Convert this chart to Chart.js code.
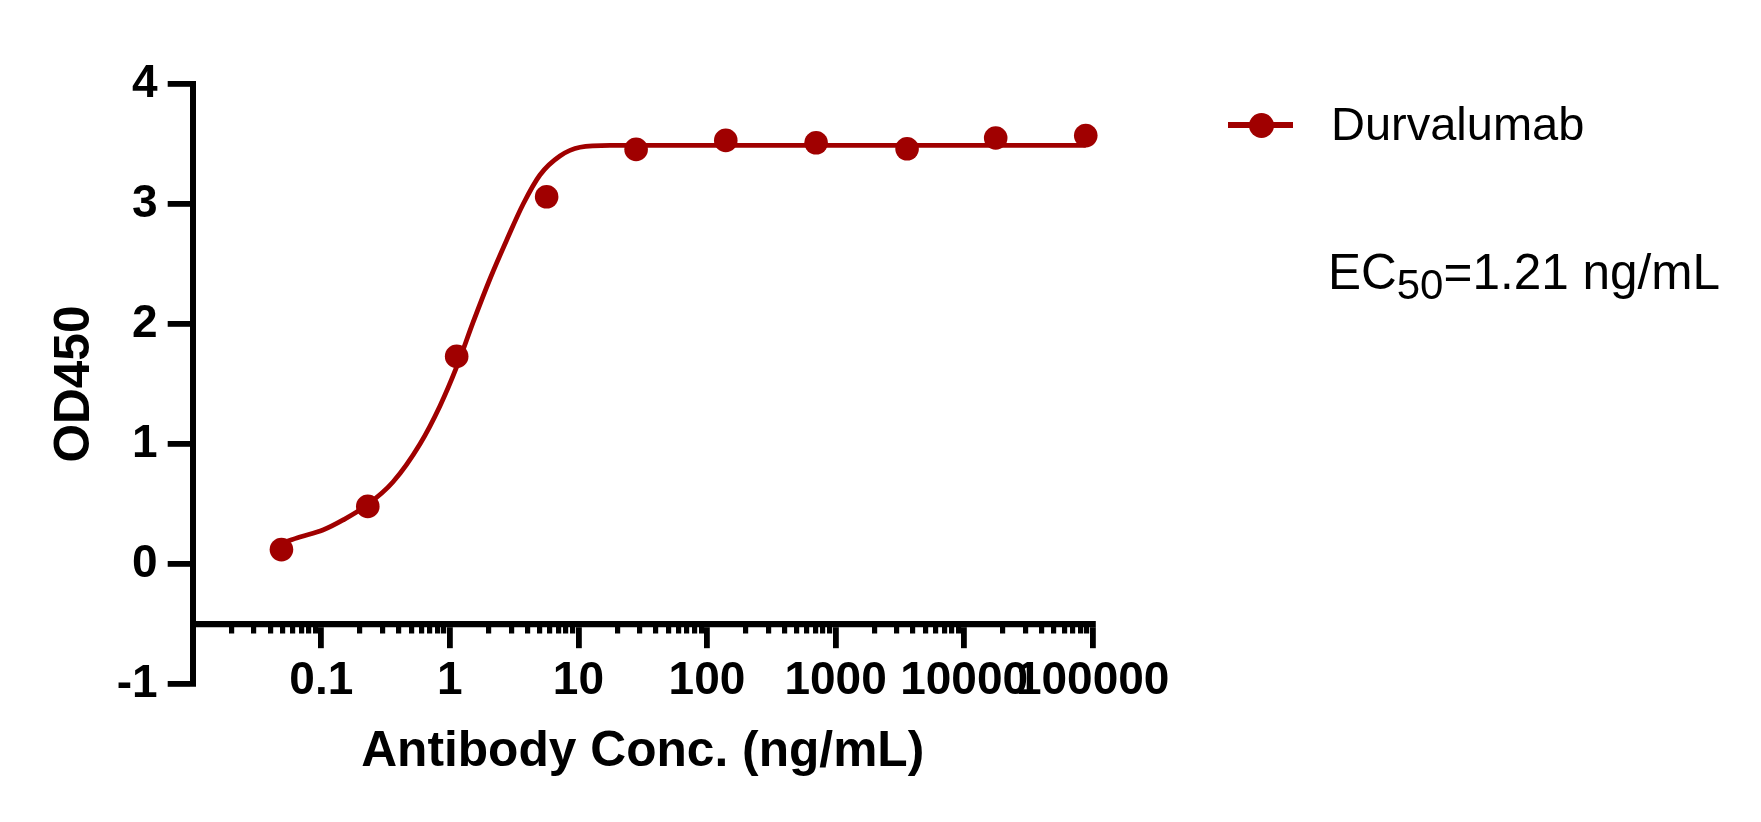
<!DOCTYPE html>
<html>
<head>
<meta charset="utf-8">
<script src="https://cdn.jsdelivr.net/npm/chart.js@4.4.1/dist/chart.umd.min.js"></script>
<style>
  html, body { margin: 0; padding: 0; background: #ffffff; }
  #wrap { position: relative; width: 1761px; height: 822px; overflow: hidden; }
  #c { position: absolute; left: 0; top: 0; }
  .txt { position: absolute; font-family: 'Liberation Sans', Arial, sans-serif; color: #000; white-space: nowrap; }
  #legLine { position: absolute; left: 1228px; top: 122px; width: 65px; height: 5.5px; background: #A00000; }
  #legDot { position: absolute; left: 1248.5px; top: 112.5px; width: 25px; height: 25px; border-radius: 50%; background: #A00000; }
  #legText { left: 1331px; top: 100px; font-size: 47px; line-height: 47px; }
  #ec50 { left: 1328px; top: 246.8px; font-size: 49.5px; line-height: 49.5px; }
  #ec50 sub { font-size: 42px; vertical-align: baseline; position: relative; top: 10px; line-height: 0; }
</style>
</head>
<body>
<div id="wrap">
  <canvas id="c" width="1761" height="822" style="width:1761px;height:822px"></canvas>
  <div id="legLine"></div>
  <div id="legDot"></div>
  <div class="txt" id="legText">Durvalumab</div>
  <div class="txt" id="ec50">EC<sub>50</sub>=1.21 ng/mL</div>
</div>
<script>
// ---- data ----
const seriesName = 'Durvalumab';
const concentrations = [0.049, 0.23, 1.13, 5.66, 28.1, 140, 706, 3600, 17600, 88300];
const od450 = [0.12, 0.48, 1.73, 3.06, 3.455, 3.53, 3.51, 3.46, 3.55, 3.57];

// fitted curve
const fitConc = [0.0494, 0.0682, 0.103, 0.148, 0.225, 0.361, 0.586, 0.838, 1.13, 1.52, 2.05, 2.77, 3.72, 5.02, 7.18, 10.3, 17.6, 100, 1000, 10000, 88300];
const fitOD = [0.175, 0.225, 0.283, 0.367, 0.488, 0.683, 1.0, 1.317, 1.642, 2.017, 2.375, 2.70, 3.0, 3.242, 3.40, 3.473, 3.488, 3.488, 3.488, 3.488, 3.488];

// tick labels
const xTickValues = [0.01, 0.1, 1, 10, 100, 1000, 10000, 100000];
const xTickLabels = ['', '0.1', '1', '10', '100', '1000', '10000', '100000'];
const xMinorTickValues = [];
for (let e = -2; e <= 4; e++) {
  for (let m = 2; m <= 9; m++) {
    xMinorTickValues.push(parseFloat((m * Math.pow(10, e)).toPrecision(6)));
  }
}
const yTickValues = [-1, 0, 1, 2, 3, 4];
const yTickLabels = ['-1', '0', '1', '2', '3', '4'];

const xTitle = 'Antibody Conc. (ng/mL)';
const yTitle = 'OD450';

// ---- style ----
const RED = '#A00000';
const FAMILY = "'Liberation Sans', Arial, sans-serif";

const pointsData = concentrations.map((c, i) => ({ x: c, y: od450[i] }));
const curveData = fitConc.map((c, i) => ({ x: c, y: fitOD[i] }));

new Chart(document.getElementById('c'), {
  type: 'scatter',
  data: {
    datasets: [
      {
        label: seriesName,
        data: pointsData,
        showLine: false,
        pointRadius: 11.8,
        pointHoverRadius: 11.8,
        pointBackgroundColor: RED,
        pointBorderWidth: 0,
        pointBorderColor: RED,
        clip: false,
        order: 0
      },
      {
        label: seriesName + ' fit',
        data: curveData,
        showLine: true,
        borderColor: RED,
        borderWidth: 4.8,
        pointRadius: 0,
        cubicInterpolationMode: 'monotone',
        fill: false,
        clip: false,
        order: 1
      }
    ]
  },
  options: {
    responsive: false,
    maintainAspectRatio: false,
    devicePixelRatio: 1,
    animation: false,
    layout: { padding: { left: 0, top: 84, right: 668.3, bottom: 138 } },
    plugins: {
      legend: { display: false },
      tooltip: { enabled: false }
    },
    scales: {
      x: {
        type: 'logarithmic',
        min: 0.01,
        max: 100000,
        position: { y: -0.5 },
        afterBuildTicks: (s) => { s.ticks = xTickValues.map(v => ({ value: v, major: true })); },
        afterFit: (s) => { s.height = 138; },
        ticks: {
          autoSkip: false,
          maxRotation: 0,
          minRotation: 0,
          padding: 9,
          color: '#000',
          font: { family: FAMILY, size: 46, weight: 'bold' },
          callback: (v, i) => xTickLabels[i]
        },
        grid: {
          display: true,
          drawOnChartArea: false,
          drawTicks: true,
          tickLength: 21,
          tickWidth: 5.8,
          lineWidth: 5.8,
          color: '#000',
          tickColor: '#000'
        },
        border: { display: true, width: 6.2, color: '#000' },
        title: {
          display: true,
          text: xTitle,
          color: '#000',
          font: { family: FAMILY, size: 49.7, weight: 'bold' },
          padding: { top: 0, bottom: -19.8 }
        }
      },
      xMinor: {
        type: 'logarithmic',
        axis: 'x',
        min: 0.01,
        max: 100000,
        position: { y: -0.5 },
        afterBuildTicks: (s) => { s.ticks = xMinorTickValues.map(v => ({ value: v })); },
        afterFit: (s) => { s.height = 0; },
        ticks: { display: false, autoSkip: false },
        grid: {
          display: true,
          drawOnChartArea: false,
          drawTicks: true,
          tickLength: 9.5,
          tickWidth: 5.2,
          lineWidth: 5.2,
          color: '#000',
          tickColor: '#000'
        },
        border: { display: false },
        title: { display: false }
      },
      y: {
        type: 'linear',
        min: -1,
        max: 4,
        position: 'left',
        afterBuildTicks: (s) => { s.ticks = yTickValues.map(v => ({ value: v })); },
        afterFit: (s) => { s.width = 192.7; },
        ticks: {
          autoSkip: false,
          padding: 10,
          color: '#000',
          font: { family: FAMILY, size: 46, weight: 'bold' },
          callback: (v, i) => yTickLabels[i]
        },
        grid: {
          display: true,
          drawOnChartArea: false,
          drawTicks: true,
          tickLength: 25,
          tickWidth: 5.8,
          lineWidth: 5.8,
          color: '#000',
          tickColor: '#000'
        },
        border: { display: true, width: 6, color: '#000' },
        title: {
          display: true,
          text: yTitle,
          color: '#000',
          font: { family: FAMILY, size: 49.5, weight: 'bold' },
          padding: { top: 45.3, bottom: 0 }
        }
      }
    }
  }
});
</script>
</body>
</html>
